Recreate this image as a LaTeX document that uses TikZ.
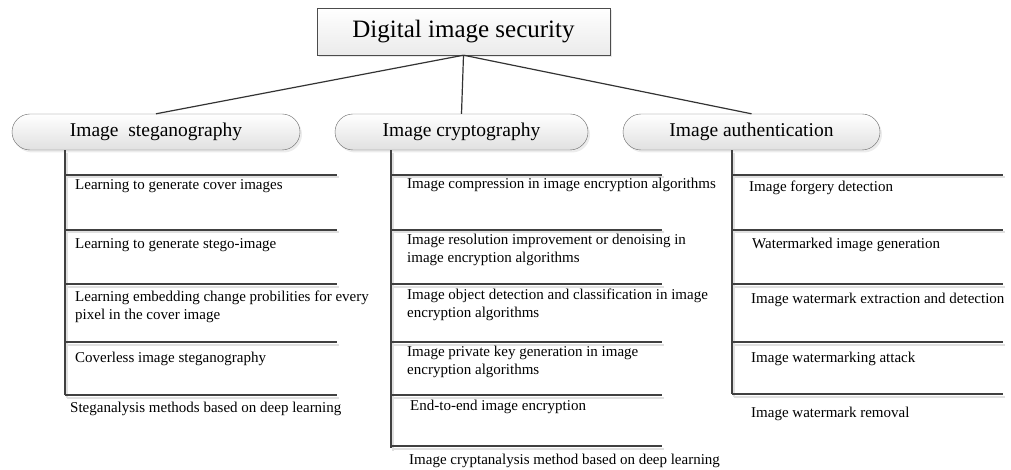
\documentclass[tikz,border=0pt]{standalone}
\usepackage{fontspec}
\setmainfont{Liberation Serif}
\usetikzlibrary{positioning,shadows}
\tikzset{
root/.style = {draw=black!70, rectangle, minimum width=293pt, minimum height=47pt, top color=white, bottom color=black!8, drop shadow={shadow xshift=2pt,shadow yshift=-2.5pt,fill=black!18}, font=\fontsize{25}{30}\selectfont},
branch/.style = {draw=black!60, rectangle, rounded corners=18pt, minimum height=36pt, top color=white, bottom color=black!12, drop shadow={shadow xshift=2pt,shadow yshift=-2.5pt,fill=black!15}, font=\fontsize{19.5}{23}\selectfont},
item/.style = {anchor=base west, inner sep=0pt, align=left, font=\fontsize{15}{18}\selectfont},
link/.style = {draw=black!80, line width=1.2pt},
hline/.style = {draw=black!75, line width=1.5pt, preaction={draw=black!12, line width=2pt, transform canvas={xshift=1.5pt,yshift=-2.5pt}}}
}
\begin{document}
\begin{tikzpicture}[x=1pt,y=-1pt]
    \useasboundingbox (0,0) rectangle (1011,470);

    \node [root] (dis) at (463.5,31.5) {Digital image security};

    \node [branch, minimum width=288pt] (steg) at (156,132) {Image \ steganography};
    \node [branch, minimum width=253pt] (crypt) at (461.5,132) {Image cryptography};
    \node [branch, minimum width=257pt] (auth) at (751.5,132) {Image authentication};

    \draw [link] (dis.south) -- (steg.north);
    \draw [link] (dis.south) -- (crypt.north);
    \draw [link] (dis.south) -- (auth.north);

    % steganography (two-line items sit on their last line)
    \coordinate (sv) at (65,395);
    \draw [hline] (steg.south -| sv) -- (sv);
    \foreach \y in {175,230,284,342,395}
        \draw [hline] (sv |- 0,\y) -- (337,\y);
    \node [item] (s1) at (75,190) {Learning to generate cover images};
    \node [item] (s2) at (75,248) {Learning to generate stego-image};
    \node [item] (s3) at (75,319) {Learning embedding change probilities for every\\pixel in the cover image};
    \node [item] (s4) at (75,362) {Coverless image steganography};
    \node [item] (s5) at (70,412) {Steganalysis methods based on deep learning};

    % cryptography
    \coordinate (cv) at (391,448);
    \draw [hline] (crypt.south -| cv) -- (cv);
    \foreach \y in {175,230,284,342,395,446}
        \draw [hline] (cv |- 0,\y) -- (662,\y);
    \node [item] (c1) at (407,189) {Image compression in image encryption algorithms};
    \node [item] (c2) at (407,262) {Image resolution improvement or denoising in\\image encryption algorithms};
    \node [item] (c3) at (407,317) {Image object detection and classification in image\\encryption algorithms};
    \node [item] (c4) at (407,374) {Image private key generation in image\\encryption algorithms};
    \node [item] (c5) at (410,410) {End-to-end image encryption};
    \node [item] (c6) at (409,464) {Image cryptanalysis method based on deep learning};

    % authentication
    \coordinate (av) at (732,394);
    \draw [hline] (auth.south -| av) -- (av);
    \foreach \y in {175,230,284,342,394}
        \draw [hline] (av |- 0,\y) -- (1003,\y);
    \node [item] (a1) at (749,192) {Image forgery detection};
    \node [item] (a2) at (752,249) {Watermarked image generation};
    \node [item] (a3) at (751,303) {Image watermark extraction and detection};
    \node [item] (a4) at (751,362) {Image watermarking attack};
    \node [item] (a5) at (751,417) {Image watermark removal};
\end{tikzpicture}
\end{document}
